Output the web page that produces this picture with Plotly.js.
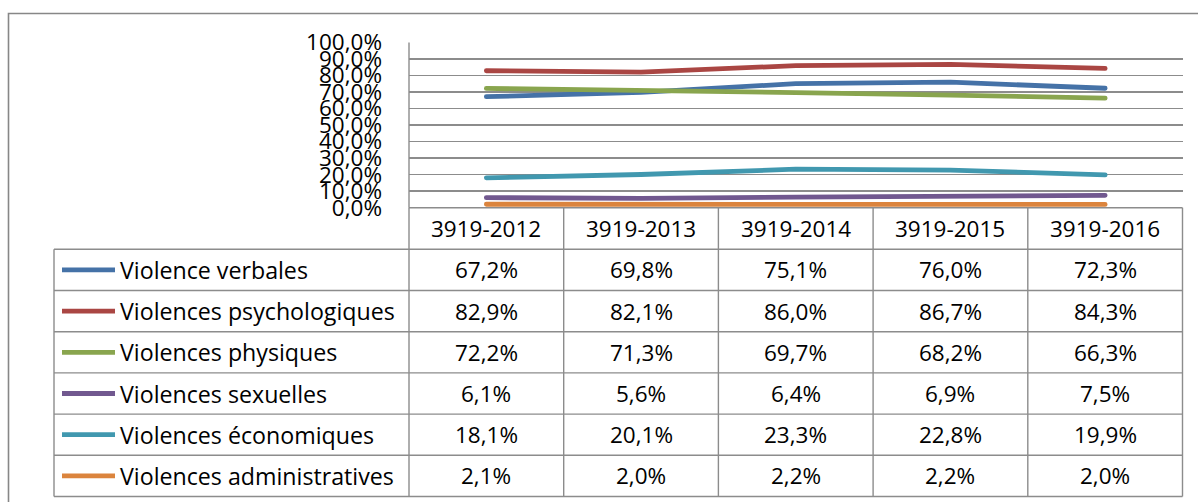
<!DOCTYPE html>
<html><head><meta charset="utf-8">
<script src="https://cdn.plot.ly/plotly-3.0.1.min.js"></script>
<style>html,body{margin:0;padding:0;background:#fff}#chart{width:1198px;height:502px}
#chart .js-line{stroke-linecap:round}</style>
</head><body><div id="chart"></div>
<script>
// ---- data ----
const categories = ["3919-2012", "3919-2013", "3919-2014", "3919-2015", "3919-2016"];
const seriesNames = ["Violence verbales", "Violences psychologiques", "Violences physiques",
  "Violences sexuelles", "Violences économiques", "Violences administratives"];
const verbales = [0.672, 0.698, 0.751, 0.760, 0.723];
const psychologiques = [0.829, 0.821, 0.860, 0.867, 0.843];
const physiques = [0.722, 0.713, 0.697, 0.682, 0.663];
const sexuelles = [0.061, 0.056, 0.064, 0.069, 0.075];
const economiques = [0.181, 0.201, 0.233, 0.228, 0.199];
const administratives = [0.021, 0.020, 0.022, 0.022, 0.020];
const yTickValues = [0, 0.1, 0.2, 0.3, 0.4, 0.5, 0.6, 0.7, 0.8, 0.9, 1.0];

const allSeries = [verbales, psychologiques, physiques, sexuelles, economiques, administratives];
const colors = ["#4572A7", "#AA4643", "#89A54E", "#71588F", "#4198AF", "#DB843D"];

// ---- geometry (pixels) ----
const W = 1198, H = 502;
const plotL = 409, plotR = 1182.5, plotT = 42.5, plotB = 207.7;
const headerB = 249.3, rowH = 41.2, tableL = 54;
const gridColor = "#8c8c8c";
const FONT = "'Open Sans', sans-serif";
const FS = 22.5;
const FS_LEG = 23.2;
const px = x => x / W;
const py = y => 1 - y / H;
const fmt = v => (v * 100).toFixed(1).replace(".", ",") + "%";

const traces = allSeries.map((vals, i) => ({
  type: "scatter", mode: "lines", x: categories, y: vals, name: seriesNames[i],
  line: {color: colors[i], width: 4.8, shape: "linear"}, hoverinfo: "skip"
}));

const shapes = [];
const annotations = [];
const line = (x0, y0, x1, y1, w) => shapes.push({type: "line", xref: "paper", yref: "paper",
  x0: px(x0), y0: py(y0), x1: px(x1), y1: py(y1), line: {color: gridColor, width: w || 1.4}});

// outer chart border
shapes.push({type: "rect", xref: "paper", yref: "paper", x0: px(8.5), y0: py(506), x1: px(1205), y1: py(13.5),
  line: {color: "#878787", width: 1.6}});

const colW = (plotR - plotL) / categories.length;
const tableB = headerB + rowH * seriesNames.length;
// header verticals
for (let c = 0; c <= categories.length; c++) line(plotL + c * colW, plotB, plotL + c * colW, tableB);
// left axis line in plot
line(plotL, plotT, plotL, plotB);
// horizontals
line(plotL, plotB, plotR, plotB);
for (let r = 0; r <= seriesNames.length; r++) line(tableL, headerB + r * rowH, plotR, headerB + r * rowH);
line(tableL, headerB, tableL, tableB);

// header labels
categories.forEach((c, i) => annotations.push({x: c, xref: "x", y: py((plotB + headerB) / 2), yref: "paper",
  text: c, showarrow: false, xanchor: "center", yanchor: "middle", font: {family: FONT, size: FS, color: "#000"}}));

// rows
seriesNames.forEach((n, r) => {
  const yc = headerB + rowH * (r + 0.5);
  shapes.push({type: "line", xref: "paper", yref: "paper", x0: px(62), x1: px(115), y0: py(yc), y1: py(yc),
    line: {color: colors[r], width: 4.8}});
  annotations.push({x: px(118), xref: "paper", y: py(yc), yref: "paper", text: n, showarrow: false,
    xanchor: "left", yanchor: "middle", font: {family: FONT, size: FS_LEG, color: "#000"}});
  allSeries[r].forEach((v, i) => annotations.push({x: categories[i], xref: "x", y: py(yc), yref: "paper",
    text: fmt(v), showarrow: false, xanchor: "center", yanchor: "middle",
    font: {family: FONT, size: FS, color: "#000"}}));
});

const layout = {
  width: W, height: H, margin: {l: 0, r: 0, t: 0, b: 0},
  paper_bgcolor: "#fff", plot_bgcolor: "#fff", showlegend: false,
  xaxis: {domain: [px(plotL), px(plotR)], range: [-0.5, categories.length - 0.5], type: "category",
    showgrid: false, zeroline: false, showticklabels: false, showline: false, fixedrange: true},
  yaxis: {domain: [py(plotB), py(plotT)], range: [0, 1], tickvals: yTickValues, tickformat: ".1%",
    showgrid: true, gridcolor: gridColor, gridwidth: 1.4, zeroline: false, showline: false,
    ticks: "", ticklabelstandoff: 26, tickfont: {family: FONT, size: FS, color: "#000"}, fixedrange: true},
  separators: ", ",
  shapes: shapes, annotations: annotations
};

Plotly.newPlot("chart", traces, layout, {staticPlot: true, displayModeBar: false});
</script></body></html>
